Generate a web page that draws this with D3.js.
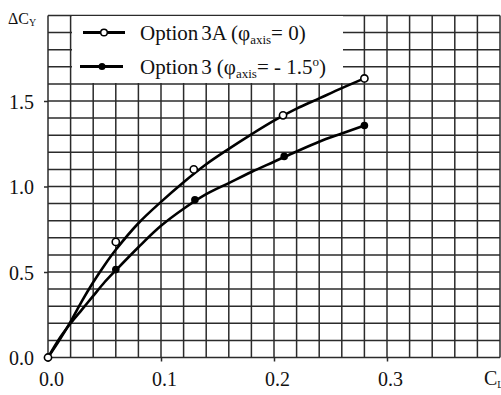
<!DOCTYPE html>
<html>
<head>
<meta charset="utf-8">
<script src="https://cdn.jsdelivr.net/npm/d3@7"></script>
<style>
  @font-face { font-family: "ChartSerif"; src: local("Liberation Serif"), local("LiberationSerif"), local("Liberation Serif Regular"), local("LiberationSerif-Regular"); }
  html, body { margin: 0; padding: 0; background: #fff; }
  svg { display: block; }
</style>
</head>
<body>
<svg id="chart" width="501" height="395"></svg>
<script>
// Measured points, Option 3A (phi_axis = 0) and Option 3 (phi_axis = -1.5 deg)
const cl3A = [0.0, 0.06, 0.129, 0.208, 0.28];
const dcy3A = [0.0, 0.676, 1.10, 1.416, 1.632];
const cl3 = [0.06, 0.13, 0.209, 0.28];
const dcy3 = [0.514, 0.922, 1.176, 1.357];

// Fitted trend lines drawn through each series
const fitCl3A = [0, 0.01, 0.02, 0.03, 0.04, 0.05, 0.06, 0.08, 0.10, 0.12, 0.14, 0.16, 0.18, 0.20, 0.22, 0.24, 0.26, 0.28];
const fitDcy3A = [0, 0.10, 0.21, 0.33, 0.44, 0.54, 0.63, 0.785, 0.91, 1.025, 1.13, 1.22, 1.305, 1.385, 1.455, 1.515, 1.575, 1.632];
const fitCl3 = [0, 0.01, 0.02, 0.03, 0.04, 0.05, 0.06, 0.08, 0.10, 0.12, 0.14, 0.16, 0.18, 0.20, 0.22, 0.24, 0.26, 0.28];
const fitDcy3 = [0, 0.11, 0.20, 0.28, 0.36, 0.44, 0.51, 0.645, 0.77, 0.87, 0.955, 1.02, 1.085, 1.145, 1.205, 1.262, 1.31, 1.357];

// Axis ticks
const xTicks = [0.0, 0.1, 0.2, 0.3];
const yTicks = [0.0, 0.5, 1.0, 1.5];

const serif = "'Liberation Serif', ChartSerif, 'Times New Roman', Times, serif";
const ink = "#111";

const svg = d3.select("#chart");
const x = d3.scaleLinear().domain([0, 0.4]).range([48, 500]);
const y = d3.scaleLinear().domain([0, 2.0]).range([357.5, 15.5]);

const gridColor = "#2b2b2b";

// Fine grid: every 0.02 in C_L, every 0.1 in dC_Y
const grid = svg.append("g");
grid.selectAll("line.v").data(d3.range(0, 21).map(i => i * 0.02))
  .join("line")
  .attr("x1", d => x(d)).attr("x2", d => x(d))
  .attr("y1", y(0)).attr("y2", y(2.0))
  .attr("stroke", gridColor).attr("stroke-width", 1.5);
grid.selectAll("line.h").data(d3.range(0, 21).map(i => i * 0.1))
  .join("line")
  .attr("x1", x(0)).attr("x2", x(0.4))
  .attr("y1", d => y(d)).attr("y2", d => y(d))
  .attr("stroke", gridColor).attr("stroke-width", 1.5);

// Axes with short outward ticks at the labelled values
const xAxis = d3.axisBottom(x).tickValues(xTicks).tickSize(4).tickFormat(d3.format(".1f"));
const yAxis = d3.axisLeft(y).tickValues(yTicks).tickSize(4).tickFormat(d3.format(".1f"));

const gx = svg.append("g").attr("transform", `translate(0,${y(0)})`).call(xAxis)
  .attr("font-family", serif).attr("font-size", 20);
gx.select(".domain").remove();
gx.selectAll(".tick line").attr("stroke", gridColor).attr("stroke-width", 1.5);
gx.selectAll(".tick text")
  .attr("font-family", serif).style("font-family", serif)
  .attr("fill", ink).attr("dy", 0).attr("y", 28).attr("dx", 3);

const gy = svg.append("g").attr("transform", `translate(${x(0)},0)`).call(yAxis)
  .attr("font-family", serif).attr("font-size", 20);
gy.select(".domain").remove();
gy.selectAll(".tick line").attr("stroke", gridColor).attr("stroke-width", 1.5);
gy.selectAll(".tick text")
  .attr("font-family", serif).style("font-family", serif)
  .attr("fill", ink).attr("x", -14).attr("dy", "0.35em");

// Axis titles
const yt = svg.append("text").attr("x", 8).attr("y", 24).attr("fill", ink)
  .attr("font-family", serif).style("font-family", serif).attr("font-size", 16);
yt.append("tspan").text("ΔC");
yt.append("tspan").attr("font-size", 10).attr("dy", 2).text("Y");

const xt = svg.append("text").attr("x", 484).attr("y", 385).attr("fill", ink)
  .attr("font-family", serif).style("font-family", serif).attr("font-size", 20);
xt.append("tspan").text("C");
xt.append("tspan").attr("font-size", 10).attr("dy", 3).text("L");

// Trend curves
const line = d3.line().x(d => x(d[0])).y(d => y(d[1])).curve(d3.curveCatmullRom.alpha(0.5));
svg.append("path").datum(d3.zip(fitCl3A, fitDcy3A))
  .attr("d", line).attr("fill", "none").attr("stroke", "#000").attr("stroke-width", 2.6);
svg.append("path").datum(d3.zip(fitCl3, fitDcy3))
  .attr("d", line).attr("fill", "none").attr("stroke", "#000").attr("stroke-width", 2.6);

// Markers
svg.append("g").selectAll("circle").data(d3.zip(cl3, dcy3)).join("circle")
  .attr("cx", d => x(d[0])).attr("cy", d => y(d[1])).attr("r", 3.8)
  .attr("fill", "#000");
svg.append("g").selectAll("circle").data(d3.zip(cl3A, dcy3A)).join("circle")
  .attr("cx", d => x(d[0])).attr("cy", d => y(d[1])).attr("r", 3.6)
  .attr("fill", "#fff").attr("stroke", "#000").attr("stroke-width", 1.6);

// Legend panel
const lg = svg.append("g");
lg.append("rect").attr("x", 72).attr("y", 16).attr("width", 271).attr("height", 67).attr("fill", "#fff");

lg.append("line").attr("x1", 83).attr("x2", 125).attr("y1", 32.5).attr("y2", 32.5)
  .attr("stroke", "#000").attr("stroke-width", 3);
lg.append("circle").attr("cx", 104).attr("cy", 32.5).attr("r", 3.3)
  .attr("fill", "#fff").attr("stroke", "#000").attr("stroke-width", 1.5);
lg.append("line").attr("x1", 80).attr("x2", 123).attr("y1", 66.5).attr("y2", 66.5)
  .attr("stroke", "#000").attr("stroke-width", 3);
lg.append("circle").attr("cx", 102).attr("cy", 66.5).attr("r", 3.5).attr("fill", "#000");

const t1 = lg.append("text").attr("x", 140).attr("y", 39.5).attr("fill", ink)
  .attr("font-family", serif).style("font-family", serif).attr("font-size", 21);
t1.append("tspan").text("Option");
t1.append("tspan").attr("dx", 3).text("3A");
t1.append("tspan").attr("dx", 4).text("(φ");
t1.append("tspan").attr("font-size", 13).attr("dy", 4).text("axis");
t1.append("tspan").attr("dy", -4).text("= 0)");

const t2 = lg.append("text").attr("x", 140).attr("y", 74).attr("fill", ink)
  .attr("font-family", serif).style("font-family", serif).attr("font-size", 21);
t2.append("tspan").text("Option");
t2.append("tspan").attr("dx", 3).text("3");
t2.append("tspan").attr("dx", 5).text("(φ");
t2.append("tspan").attr("font-size", 13).attr("dy", 4).text("axis");
t2.append("tspan").attr("dy", -4).text("= - 1.5");
t2.append("tspan").attr("font-size", 13).attr("dy", -8).text("o");
t2.append("tspan").attr("dy", 8).text(")");
</script>
</body>
</html>
